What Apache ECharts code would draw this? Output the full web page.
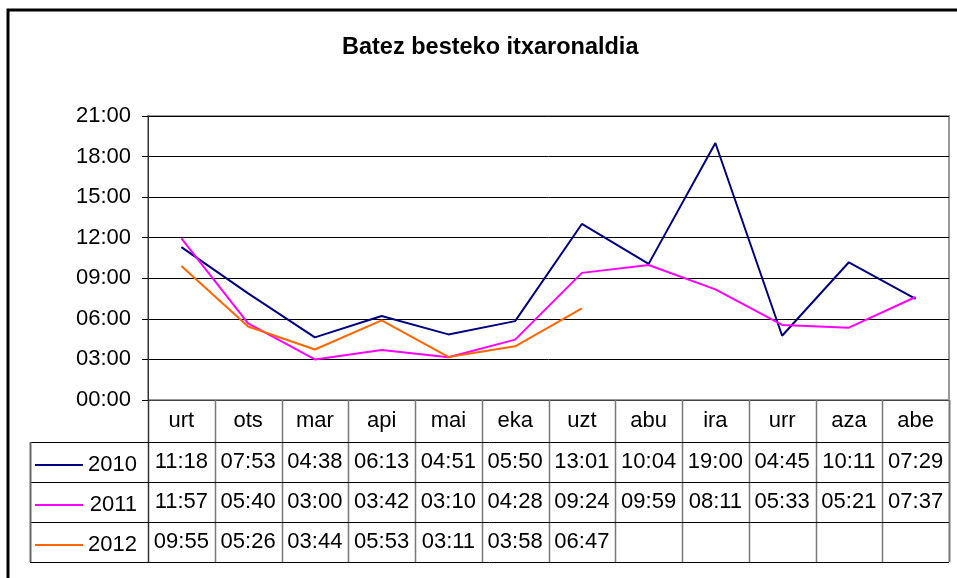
<!DOCTYPE html>
<html>
<head>
<meta charset="utf-8">
<script src="https://cdn.jsdelivr.net/npm/echarts@6/dist/echarts.min.js"></script>
<style>
html, body { margin: 0; padding: 0; background: #fff; }
#chart { width: 957px; height: 578px; }
</style>
</head>
<body>
<div id="chart"></div>
<script>
// hilabeteak eta urteak
var months = ['urt', 'ots', 'mar', 'api', 'mai', 'eka', 'uzt', 'abu', 'ira', 'urr', 'aza', 'abe'];
var years = ['2010', '2011', '2012'];
var v2010 = ['11:18', '07:53', '04:38', '06:13', '04:51', '05:50', '13:01', '10:04', '19:00', '04:45', '10:11', '07:29'];
var v2011 = ['11:57', '05:40', '03:00', '03:42', '03:10', '04:28', '09:24', '09:59', '08:11', '05:33', '05:21', '07:37'];
var v2012 = ['09:55', '05:26', '03:44', '05:53', '03:11', '03:58', '06:47'];
var yMaxMin = 21 * 60;   // 21:00
var yStepMin = 3 * 60;   // 03:00
var colors = ['#000080', '#ff00ff', '#ff6600'];
var font = 'Liberation Sans, Arial, sans-serif';

function toMin(s) {
    if (!s) return null;
    var p = s.split(':');
    return parseInt(p[0], 10) * 60 + parseInt(p[1], 10);
}
function pad(n) { return (n < 10 ? '0' : '') + n; }
function fmt(m) { return pad(Math.floor(m / 60)) + ':' + pad(m % 60); }

var table = [v2010, v2011, v2012];

var myChart = echarts.init(document.getElementById('chart'));
option = {
    animation: false,
    backgroundColor: '#fff',
    color: colors,
    title: {
        text: 'Batez besteko itxaronaldia',
        left: 337,
        top: 31,
        textStyle: { color: '#000', fontSize: 23.5, fontWeight: 'bold', fontFamily: font }
    },
    grid: {
        left: 148, right: 8, top: 116, bottom: 178,
        show: true, borderColor: '#999', borderWidth: 2
    },
    xAxis: {
        type: 'category',
        data: months,
        boundaryGap: true,
        axisLine: { lineStyle: { color: '#444', width: 1 } },
        axisTick: { show: false },
        axisLabel: { margin: 10, color: '#000', fontSize: 22, fontFamily: font }
    },
    yAxis: {
        type: 'value',
        min: 0,
        max: yMaxMin,
        interval: yStepMin,
        axisLine: { show: true, lineStyle: { color: '#333', width: 1 } },
        axisTick: { show: true, length: 6, lineStyle: { color: '#000' } },
        splitLine: { lineStyle: { color: '#000', width: 1 } },
        axisLabel: {
            margin: 17, color: '#000', fontSize: 22, fontFamily: font,
            formatter: function (v) { return fmt(v); }
        }
    },
    series: years.map(function (y, i) {
        return {
            name: y,
            type: 'line',
            data: table[i].map(toMin),
            showSymbol: false,
            symbol: 'none',
            lineStyle: { width: 2, color: colors[i] }
        };
    })
};
myChart.setOption(option);

// datu taula grafikoaren azpian
var cx0 = myChart.convertToPixel({ xAxisIndex: 0 }, 0);
var cx1 = myChart.convertToPixel({ xAxisIndex: 0 }, 1);
var colW = cx1 - cx0;
var gx0 = cx0 - colW / 2;
var gx1 = gx0 + colW * months.length;
var yBase = myChart.convertToPixel({ yAxisIndex: 0 }, 0);
var catH = 42, rowH = 40;
var tTop = yBase + catH;
var tBottom = tTop + rowH * years.length;
var keyLeft = 30;

var g = [];
g.push({ type: 'rect', shape: { x: 8, y: 10, width: 980, height: 600 },
    style: { fill: null, stroke: '#000', lineWidth: 3 }, z: 100 });
for (var k = 0; k <= months.length; k++) {
    var x = Math.round(gx0 + colW * k) + 0.5;
    g.push({ type: 'line', shape: { x1: x, y1: yBase, x2: x, y2: tBottom },
        style: { stroke: k === 0 ? '#333' : '#777', lineWidth: k === months.length ? 2 : 1.5 }, z: 50 });
}
for (var r = 0; r <= years.length; r++) {
    var yy = Math.round(tTop + rowH * r) + 0.5;
    g.push({ type: 'line', shape: { x1: keyLeft, y1: yy, x2: gx1, y2: yy },
        style: { stroke: '#000', lineWidth: 1 }, z: 50 });
}
g.push({ type: 'line', shape: { x1: keyLeft + 0.5, y1: tTop, x2: keyLeft + 0.5, y2: tBottom },
    style: { stroke: '#666', lineWidth: 2 }, z: 50 });
years.forEach(function (y, i) {
    var cy = tTop + rowH * i + rowH / 2;
    g.push({ type: 'line', shape: { x1: 35, y1: cy + 3, x2: 83, y2: cy + 3 },
        style: { stroke: colors[i], lineWidth: 2 }, z: 50 });
    g.push({ type: 'text', x: 137, y: cy + 3,
        style: { text: y, fill: '#000', font: '22px ' + font, align: 'right', verticalAlign: 'middle' }, z: 50 });
    table[i].forEach(function (s, j) {
        g.push({ type: 'text', x: cx0 + colW * j, y: cy,
            style: { text: s, fill: '#000', font: '22px ' + font, align: 'center', verticalAlign: 'middle' }, z: 50 });
    });
});
myChart.setOption({ graphic: g });

window.addEventListener('resize', function () {
    if (myChart != null && myChart != undefined) {
        myChart.resize();
    }
});
</script>
</body>
</html>
